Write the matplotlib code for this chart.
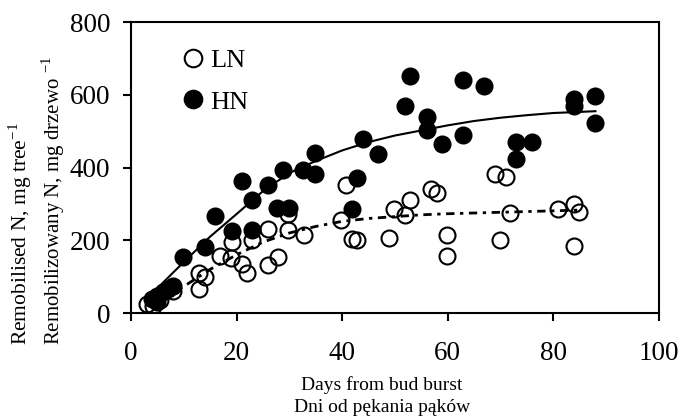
import matplotlib
matplotlib.use("Agg")
import matplotlib.pyplot as plt

# LN (open circles)
ln_days = [3, 4.2, 5.5, 8, 12.9, 12.9, 14, 16.9, 18.9, 19.1, 21, 21.9, 23, 25.9, 25.9, 27.9,
           29.8, 29.8, 32.8, 39.8, 40.8, 41.9, 42.9, 48.9, 49.8, 51.9, 52.8, 56.8, 57.9,
           59.9, 59.9, 68.9, 71, 69.9, 71.9, 80.9, 84, 84.9, 84]
ln_vals = [26, 18, 35, 60, 67, 110, 99, 156, 150, 195, 136, 110, 202, 131, 232, 154,
           227, 273, 214, 257, 353, 204, 202, 207, 287, 269, 312, 342, 330,
           214, 156, 381, 374, 202, 275, 285, 301, 278, 183]

# HN (filled circles)
hn_days = [4, 5, 6, 7, 8, 5, 9.9, 14, 16, 19.1, 21, 23, 23, 25.9, 27.6, 28.8, 30, 32.6, 34.8,
           34.8, 41.9, 42.9, 44, 46.8, 51.9, 52.8, 56, 56, 59, 62.9, 62.9, 66.9, 73, 75.9,
           73, 84, 84, 87.9, 87.9]
hn_vals = [38, 48, 58, 66, 75, 30, 154, 181, 266, 225, 362, 310, 227, 351, 290, 394, 290, 394, 440,
           381, 287, 372, 479, 436, 570, 651, 539, 502, 464, 640, 490, 624, 470, 470,
           424, 589, 568, 596, 522]

# trend lines
hn_fit_days = [3, 5, 10, 15, 20, 25, 30, 35, 40, 45, 50, 55, 60, 65, 70, 75, 80, 85, 88]
hn_fit_vals = [40, 68, 140, 210, 272, 335, 385, 418, 447, 470, 488, 502, 516, 528, 537, 544, 550, 553, 555]
ln_fit_days = [3, 5, 10, 15, 20, 25, 30, 35, 40, 45, 50, 55, 60, 65, 70, 75, 80, 85]
ln_fit_vals = [20, 33, 73, 120, 160, 195, 220, 238, 252, 260, 265, 270, 273, 275, 277, 279, 281, 283]

x_ticks = [0, 20, 40, 60, 80, 100]
y_ticks = [0, 200, 400, 600, 800]

plt.rcParams['font.family'] = ['Liberation Serif', 'DejaVu Serif']

fig = plt.figure(figsize=(6.82, 4.17), dpi=100)
ax = fig.add_axes([0.192, 0.2494, 0.774, 0.6976])

ms = 11.5
ax.plot(ln_fit_days, ln_fit_vals, color='black', lw=2, dashes=(3, 2, 1.2, 2), zorder=3)
ax.plot(hn_fit_days, hn_fit_vals, color='black', lw=1.5, zorder=3)
ax.plot(ln_days, ln_vals, 'o', ms=ms, mfc='none', mec='black', mew=1.5, label='LN', zorder=4)
ax.plot(hn_days, hn_vals, 'o', ms=ms, mfc='black', mec='black', mew=1.5, label='HN', zorder=4)

ax.set_xlim(0, 100)
ax.set_ylim(0, 800)
ax.set_xticks(x_ticks)
ax.set_yticks(y_ticks)
ax.tick_params(direction='out', length=6, width=1.5, labelsize=19.5)
ax.tick_params(axis='x', pad=14)
ax.tick_params(axis='y', pad=9)
for s in ax.spines.values():
    s.set_linewidth(1.5)

leg = ax.legend(loc='upper left', bbox_to_anchor=(0.085, 0.945), frameon=False, fontsize=19,
                handlelength=0.5, handletextpad=0.4, labelspacing=0.68, borderaxespad=0,
                markerscale=1.1)

fig.text(382 / 682, 1 - 390 / 417, 'Days from bud burst', ha='center', va='baseline', fontsize=14)
fig.text(382 / 682, 1 - 412 / 417, 'Dni od pękania pąków', ha='center', va='baseline', fontsize=14)
fig.text(20 / 682, (417 - 345) / 417, 'Remobilised N, mg tree$^{\\mathregular{-1}}$', rotation=90,
         ha='center', va='bottom', fontsize=15.5)
fig.text(53 / 682, (417 - 345) / 417, 'Remobilizowany N, mg drzewo $^{\\mathregular{-1}}$', rotation=90,
         ha='center', va='bottom', fontsize=15)

fig.savefig('out.png', dpi=100)
